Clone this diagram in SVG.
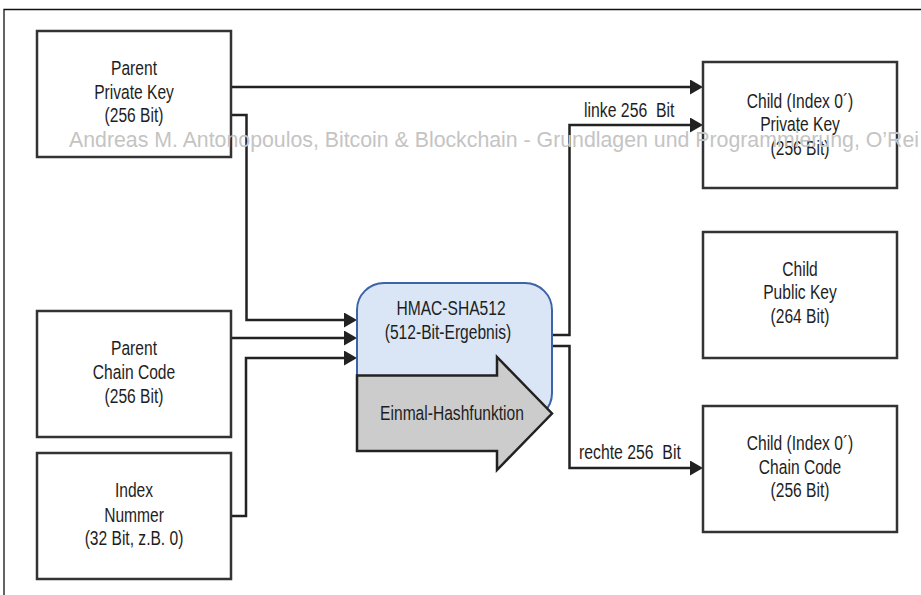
<svg xmlns="http://www.w3.org/2000/svg" width="921" height="595" viewBox="0 0 921 595">
<style>
.box{fill:#fff;stroke:#333;stroke-width:2.5}
.t{font-family:"Liberation Sans",Arial,sans-serif;font-size:19.5px;fill:#1e1e1e;text-anchor:middle}
.lbl{font-family:"Liberation Sans",Arial,sans-serif;font-size:19.5px;fill:#1e1e1e}
.c{fill:none;stroke:#222;stroke-width:2.5}
.wm{font-family:"Liberation Sans",Arial,sans-serif;font-size:21.3px;fill:#c4c4c4}
</style>
<defs>
<marker id="ah" markerUnits="userSpaceOnUse" markerWidth="13" markerHeight="15" viewBox="0 0 13 15" refX="10" refY="7.5" orient="auto">
<path d="M0,0 L13,7.5 L0,15 z" fill="#222"/>
</marker>
</defs>
<rect width="921" height="595" fill="#fff"/>
<path d="M4,595 V9.5 H921" fill="none" stroke="#111" stroke-width="1.3"/>

<g id="connectors">
<path class="c" d="M231,87 H700" marker-end="url(#ah)"/>
<path class="c" d="M231,115 H246.5 V320 H354" marker-end="url(#ah)"/>
<path class="c" d="M231,338 H354" marker-end="url(#ah)"/>
<path class="c" d="M231,516 H246 V358 H354" marker-end="url(#ah)"/>
<path class="c" d="M552,335 H569.5 V125 H700" marker-end="url(#ah)"/>
<path class="c" d="M552,346 H569.5 V468 H700" marker-end="url(#ah)"/>
<text class="lbl" transform="translate(584,117) scale(0.81,1)" xml:space="preserve">linke 256  Bit</text>
<text class="lbl" transform="translate(579,459) scale(0.81,1)" xml:space="preserve">rechte 256  Bit</text>
</g>

<g id="parent-private-key">
<rect class="box" x="37" y="31" width="194" height="126"/>
<text class="t" transform="translate(134,75) scale(0.8,1)">Parent</text>
<text class="t" transform="translate(134,98.5) scale(0.8,1)">Private Key</text>
<text class="t" transform="translate(134,122) scale(0.8,1)">(256 Bit)</text>
</g>

<g id="parent-chain-code">
<rect class="box" x="37" y="311" width="194" height="126"/>
<text class="t" transform="translate(134,355) scale(0.8,1)">Parent</text>
<text class="t" transform="translate(134,379) scale(0.8,1)">Chain Code</text>
<text class="t" transform="translate(134,402.5) scale(0.8,1)">(256 Bit)</text>
</g>

<g id="index-nummer">
<rect class="box" x="37" y="453" width="194" height="126"/>
<text class="t" transform="translate(134,497) scale(0.8,1)">Index</text>
<text class="t" transform="translate(134,521.5) scale(0.8,1)">Nummer</text>
<text class="t" transform="translate(134,544.5) scale(0.8,1)">(32 Bit, z.B. 0)</text>
</g>

<g id="hmac">
<rect x="357" y="283" width="195" height="137" rx="27" ry="27" fill="#dae6f6" stroke="#3d63a8" stroke-width="2"/>
<text class="t" transform="translate(451,315) scale(0.8,1)">HMAC-SHA512</text>
<text class="t" transform="translate(448,338.5) scale(0.8,1)">(512-Bit-Ergebnis)</text>
<polygon points="357,375.5 497,375.5 497,357 552,413.5 497,470 497,451 357,451" fill="#cccccc" stroke="#222" stroke-width="2.5" stroke-linejoin="miter"/>
<text class="t" transform="translate(452,420) scale(0.8,1)">Einmal-Hashfunktion</text>
</g>

<g id="child-private-key">
<rect class="box" x="703" y="62" width="194" height="126"/>
<text class="t" transform="translate(800,107.5) scale(0.8,1)">Child (Index 0´)</text>
<text class="t" transform="translate(800,131) scale(0.8,1)">Private Key</text>
<text class="t" transform="translate(800,154.5) scale(0.8,1)">(256 Bit)</text>
</g>

<g id="child-public-key">
<rect class="box" x="703" y="232" width="194" height="126"/>
<text class="t" transform="translate(800,275.5) scale(0.8,1)">Child</text>
<text class="t" transform="translate(800,299) scale(0.8,1)">Public Key</text>
<text class="t" transform="translate(800,322.5) scale(0.8,1)">(264 Bit)</text>
</g>

<g id="child-chain-code">
<rect class="box" x="703" y="406" width="194" height="126"/>
<text class="t" transform="translate(800,449.5) scale(0.8,1)">Child (Index 0´)</text>
<text class="t" transform="translate(800,473.5) scale(0.8,1)">Chain Code</text>
<text class="t" transform="translate(800,497) scale(0.8,1)">(256 Bit)</text>
</g>

<text class="wm" x="69" y="147">Andreas M. Antonopoulos, Bitcoin &amp; Blockchain - Grundlagen und Programmierung, O’Rei</text>
</svg>
